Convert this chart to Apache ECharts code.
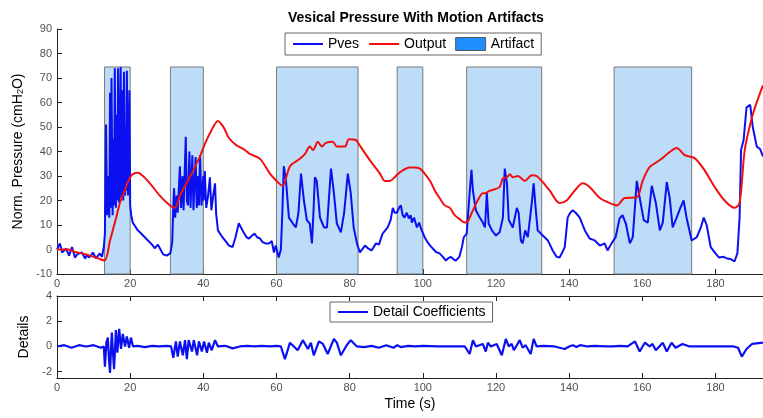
<!DOCTYPE html>
<html>
<head>
<meta charset="utf-8">
<script src="https://cdn.jsdelivr.net/npm/echarts@6/dist/echarts.min.js"></script>
<style>
html,body{margin:0;padding:0;background:#fff;}
#chart{width:763px;height:418px;}
</style>
</head>
<body>
<div id="chart"></div>
<script>
// ---------- DATA ----------
const chartTitle = 'Vesical Pressure With Motion Artifacts';
const xTicks = [0, 20, 40, 60, 80, 100, 120, 140, 160, 180];
const yTicksTop = [-10, 0, 10, 20, 30, 40, 50, 60, 70, 80, 90];
const yTicksBottom = [-2, 0, 2, 4];

const pvesTime = [0,0.8,1.4,1.9,2.5,3.3,4.1,4.9,5.5,6,6.8,7.7,8.2,8.7,9.3,9.8,10.7,11.2,11.7,12.3,12.8,13.1,13.4,
13.7,14.1,14.3,14.5,14.7,14.9,15.2,15.5,15.6,15.8,16.1,16.4,16.5,16.7,17.0,17.4,17.6,17.9,18.1,18.3,18.6,18.8,18.9,19.1,19.4,19.8,20.0,20.3,20.7,
21,22,23,24,25,26,26.7,27.6,28.3,29,30,31,31.5,31.8,32,32.3,32.7,33,33.6,33.9,34.3,34.6,35.2,35.5,35.8,36.2,36.5,37,37.3,37.9,38.2,38.6,38.8,39.1,39.5,40,40.1,40.4,40.8,41.3,41.8,42.2,42.7,43.2,43.5,44,45,45.5,46.3,47,48,48.8,49.7,50.3,51,51.8,52.5,53.2,54,54.7,55.5,56.2,57,58,58.7,59.3,59.8,60.6,61.2,61.6,62,62.6,63.4,64.5,65.3,66,66.7,67.5,68.3,69.1,69.7,70.1,70.5,71,71.9,73,73.8,74.3,74.9,75.7,76.5,77.6,78.5,79.5,80.3,81.1,82,82.8,84.2,85,86,87.2,88,89,90.4,91.2,91.8,92.3,92.9,93.5,94,94.5,95,95.6,96.2,96.7,97,97.6,98.4,99,99.5,100.5,101.3,102,103.6,104.6,105.5,106.3,107,107.7,108.4,109,110,110.7,111.2,112,112.8,113.3,113.7,114.5,115.6,116.4,117,117.5,118,118.9,120,121,121.9,122.4,123,123.5,124.6,125.7,126.2,126.8,127.3,128,128.7,129.8,130.3,130.9,131.4,132.8,134.2,135.5,136.6,137.4,138.2,138.8,139.6,140.3,141,141.8,142.9,144.3,145.6,147,148.4,149.7,150.5,151.6,152.7,153.8,154.6,155.5,156.6,157.4,158.5,159.3,160.4,161.5,162.6,163.7,164.8,165.6,166.7,167.5,168.3,169.4,170.4,171.3,172.1,173.5,174.9,176,176.8,177.6,178.7,180,181,182.2,183.3,184.3,185.2,186,186.6,187,187.7,188.5,189.5,190.2,191.3,192.2,193];
const pvesValue = [0,2.5,-1.2,-1.6,0.4,-2.5,1,-3.3,-2,-1.6,-1.2,-3.7,-2,-3.3,-2.5,-1.2,-3.7,-2.5,-1.6,-3,1,6.5,51,
14,30,13,64,17,70,14,45,18,74,17,55,20,74,19,74.5,21,65,20,72.5,22,50,24,73,22,65,18,14,11,
10.5,8,6.5,5,3.5,2,0.5,2,0,-2,-2.5,-1.5,3,18,25,13,22,15,34,17,30,16,46,20,18,40,17,38.5,16,37.7,17,30,18,38.5,18,30,20,32,17,22,29.5,16,22,27,14.6,7.8,5.5,5,3,1.6,1,5,10.7,9,7,5,4.5,5.5,6.5,5,4.5,3,2.5,2.5,3.5,-1.2,1.6,-3.3,0,15,34,28,13,10.6,9,15,31,20,12,10.6,2.5,15,29.5,28,13,9,9,20,33,23,10.6,7,15,31,23,9,2.5,-1.2,1.6,0.5,-0.4,2.5,2,6.5,9,12,17,15,15,17,18,14,13,15,12.7,14,11,13,9,11,8.6,5,3,1.6,-1,-1.6,-3,-4.5,-3.5,-3,-4,-4.5,-3,1,5,6.5,23,32.5,24,16,13,11,9,23,10.6,7.8,5.7,7,13,33,27,12,9,17,15,3.7,2.5,7.8,5,19,27,16,7.8,5.7,3.7,-0.4,-3,-3.3,-1,1,13,15,16,15,13,7.8,4.5,3.7,1.6,2.5,-0.4,2.5,5,12.7,14,10.6,2.5,5,28,21,12,11,26,19,7.8,11,27.5,21,9,13,17,20,13,3.7,5,9,13,10,1,-1.6,-3.3,-3,-3.7,-4,-4.9,-1.6,13,40.6,44.7,58,59,50,42,41,38];

const outputTime = [0,3,5,8,11,13,14.5,16,17.2,18.5,19.5,20.5,22,23.5,25.4,28.1,30.9,32.2,33.6,36.3,39,40.4,42,44,45.5,47,49,51,52.7,55.5,58.2,60.7,61.7,63.7,66.4,67.8,69.1,70,71.3,72.4,73.5,75.4,76.5,78.7,79.8,81.7,82.5,85.5,88.3,89.6,91,92.3,93.7,96.4,97.8,99.2,100.5,102,103.3,104.6,106,107.4,108.7,110,111.5,112.3,113.4,115,116.4,117,118.3,119.7,121,121.9,123,123.8,124.6,126,127.9,129.8,131.1,132.5,134.7,137.4,139.3,141.5,143.7,145.6,148.4,151,153,155.2,158.5,160.1,162,164.8,167.5,169.4,171.6,174.3,177,179.8,182.5,185.2,186.6,188,190,191.5,193];
const outputValue = [0,0,-1,-2,-3.5,-4.5,3.7,12,19,24,28,30.5,31.3,30,27,22,18,17,22,29.5,37.7,43,48,52.5,50,45.5,42.6,41,39,37,31,27,26,34,37,39,42,40.6,44,42,43.5,44,42,42,45,44.7,43,36.5,31,28,28,29.5,31.5,33.5,33.5,33,31,28,24,21,18,17,14,12.5,11,11.5,15,20,23,23,24,24.6,25.5,29,29.5,30.7,29.5,30,28,30.3,30,28,24,19,20,24,27,25.5,21,19,18,21,21.3,28,33.6,36.5,39.8,41.4,38.5,37.3,32.4,25.5,20,17,19,40.6,54,61,67];

const detailTime = [0,2,4,6,8,10,12,12.8,13.1,13.5,13.9,14.2,14.5,14.8,15,15.3,15.6,15.9,16.1,16.5,17,17.5,18,18.6,19.1,19.7,20.2,20.8,22,24,26,28,30,31.2,31.8,32.5,33,33.6,34.4,35,35.5,36,36.9,37.4,38.3,38.8,39.6,40.2,41,41.5,42.3,43.2,44,46,48,50,52,54,56,58,60,61.2,62.3,63.7,65.8,67.2,68.6,69.4,70.2,71.6,72.7,74,75.7,76.5,77.6,79.2,80.3,82,84,86,88,90,92,93,94,96,98,100,104,108,110,111.5,112.8,113.7,114.5,116.4,117.2,117.8,118.6,120.2,121.6,122.7,123.5,124.3,124.9,126.5,127.3,128.1,129.5,130.3,131.1,133,136,138.8,140,141,142,143,145,147,150,152,154,156,158,159.3,160.7,162,162.8,163.7,165.6,166.7,168,169.1,171,172.9,175,180,185,186.2,187.2,188.5,190,193];
const detailValue = [0,0.1,-0.1,0.1,0,0.1,-0.1,0,-1.6,0.3,0.7,-1,-2.1,0,1.1,-0.5,-1.8,0,1.3,-0.5,1.4,-0.2,1,0,0.8,-0.1,0.7,0,0.05,-0.05,0.05,0,0.05,0,-0.9,0.4,-0.8,0.4,-0.7,0.5,-1.0,0.5,-0.4,0.5,-0.7,0.4,-0.4,0.4,-0.5,0.3,-0.3,0.5,0,0.05,-0.15,0,0.05,0,0.05,0,0.05,0,-1.0,0.3,-0.3,0.5,-0.2,0.3,-0.7,0.4,0.2,-0.6,0.6,0.3,-0.7,0.1,0.5,0,-0.05,0.05,-0.1,0.1,-0.1,0.1,-0.05,0.05,0,0.05,0,0,0,0,-0.6,0.5,0,0.2,-0.4,0.3,0,0.2,-0.7,0.6,0,0.2,-0.3,0.5,-0.1,0.1,-0.6,0.6,0,0.05,0,-0.2,0,0.1,-0.05,0.1,0,0.05,0,0,0.05,0,0.4,-0.4,0.3,0,0.2,-0.3,0.3,-0.4,0.3,-0.1,0.2,0,0,0,0,-0.1,-0.8,-0.2,0.2,0.3];

const artifactStart = [13, 31, 60, 93, 112, 152.3];
const artifactEnd = [20, 40, 82.3, 100, 132.5, 173.5];
const artifactTop = [74.5, 74.5, 74.5, 74.5, 74.5, 74.5];

// ---------- BUILD ----------
const zip = (a, b) => a.map((v, i) => [v, b[i]]);
const artifactData = artifactStart.map((s, i) => [s, artifactEnd[i], artifactTop[i]]);
const FONT = '"Liberation Sans", Arial, sans-serif';
const X0 = 0, X1 = 193;
const tickColor = '#505050';
const BLUE = '#0a10f0', RED = '#f01010';

const chart = echarts.init(document.getElementById('chart'), null, {renderer: 'canvas'});
const axisLineStyle = {color: '#222', width: 1};
const xAxisCommon = (gridIndex) => ({
  type: 'value', gridIndex, min: X0, max: X1,
  axisLine: {show: true, onZero: false, lineStyle: axisLineStyle},
  axisTick: {show: true, inside: true, length: 5, lineStyle: axisLineStyle, customValues: xTicks},
  axisLabel: {show: true, margin: 4, color: tickColor, fontSize: 11, fontFamily: FONT, customValues: xTicks},
  splitLine: {show: false}
});
const hiddenSymbol = {opacity: 0};

const option = {
  animation: false,
  backgroundColor: '#fff',
  title: {
    text: chartTitle, left: 283, top: 6,
    textStyle: {fontSize: 14, fontWeight: 'bold', color: '#000', fontFamily: FONT}
  },
  legend: [
    {
      data: [
        {name: 'Pves', itemStyle: hiddenSymbol},
        {name: 'Output', itemStyle: hiddenSymbol},
        {name: 'Artifact', icon: 'rect', itemStyle: {color: '#1e8fff', borderColor: '#555', borderWidth: 1}}
      ],
      left: 285, top: 33, orient: 'horizontal',
      itemWidth: 30, itemHeight: 13, itemGap: 9,
      padding: [4, 7, 4, 7],
      borderColor: '#666', borderWidth: 1, backgroundColor: '#fff',
      textStyle: {fontSize: 14, color: '#000', fontFamily: FONT},
      selectedMode: false
    },
    {
      data: [{name: 'Detail Coefficients', itemStyle: hiddenSymbol}],
      left: 330, top: 302,
      itemWidth: 30, itemHeight: 13,
      padding: [3, 7, 3, 7],
      borderColor: '#666', borderWidth: 1, backgroundColor: '#fff',
      textStyle: {fontSize: 14, color: '#000', fontFamily: FONT},
      selectedMode: false
    }
  ],
  grid: [
    {left: 57, top: 29, width: 706, height: 245, containLabel: false},
    {left: 57, top: 296, width: 706, height: 82, containLabel: false}
  ],
  xAxis: [
    Object.assign(xAxisCommon(0), {position: 'bottom'}),
    Object.assign(xAxisCommon(1), {
      position: 'bottom', name: 'Time (s)', nameLocation: 'middle', nameGap: 19,
      nameTextStyle: {fontSize: 14, color: '#000', fontFamily: FONT}
    }),
    Object.assign(xAxisCommon(1), {
      position: 'top',
      axisLabel: {show: false}
    })
  ],
  yAxis: [
    {
      type: 'value', gridIndex: 0, min: -10, max: 90, interval: 10,
      axisLine: {show: true, onZero: false, lineStyle: axisLineStyle},
      axisTick: {show: true, inside: true, length: 5, lineStyle: axisLineStyle, customValues: yTicksTop},
      axisLabel: {margin: 5, color: tickColor, fontSize: 11, fontFamily: FONT, customValues: yTicksTop},
      splitLine: {show: false},
      name: 'Norm. Pressure (cmH{sub|2}O)', nameLocation: 'middle', nameGap: 30, nameRotate: 90,
      nameTextStyle: {
        fontSize: 14, color: '#000', fontFamily: FONT,
        rich: {sub: {fontSize: 9, color: '#000', fontFamily: FONT, verticalAlign: 'bottom', padding: [6, 0, 0, 0]}}
      }
    },
    {
      type: 'value', gridIndex: 1, min: -2.5, max: 4,
      axisLine: {show: true, onZero: false, lineStyle: axisLineStyle},
      axisTick: {show: true, inside: true, length: 5, lineStyle: axisLineStyle, customValues: yTicksBottom},
      axisLabel: {margin: 5, color: tickColor, fontSize: 11, fontFamily: FONT, customValues: yTicksBottom},
      splitLine: {show: false},
      name: 'Details', nameLocation: 'middle', nameGap: 19, nameRotate: 90,
      nameTextStyle: {fontSize: 14, color: '#000', fontFamily: FONT}
    }
  ],
  series: [
    {
      name: 'Artifact', type: 'custom', xAxisIndex: 0, yAxisIndex: 0, z: 1,
      itemStyle: {color: '#1e8fff'},
      encode: {x: [0, 1], y: 2},
      data: artifactData,
      renderItem: function (params, api) {
        const p0 = api.coord([api.value(0), -10]);
        const p1 = api.coord([api.value(1), api.value(2)]);
        return {
          type: 'rect',
          shape: {x: p0[0], y: p1[1], width: p1[0] - p0[0], height: p0[1] - p1[1]},
          style: {fill: '#bcdcf8', stroke: '#7a7a7a', lineWidth: 1}
        };
      }
    },
    {
      name: 'Pves', type: 'line', xAxisIndex: 0, yAxisIndex: 0, z: 3,
      data: zip(pvesTime, pvesValue), symbol: 'none', showSymbol: false,
      lineStyle: {color: BLUE, width: 2}, itemStyle: {color: BLUE}
    },
    {
      name: 'Output', type: 'line', xAxisIndex: 0, yAxisIndex: 0, z: 4,
      data: zip(outputTime, outputValue), symbol: 'none', showSymbol: false, smooth: 0.3,
      lineStyle: {color: RED, width: 2}, itemStyle: {color: RED}
    },
    {
      name: 'Detail Coefficients', type: 'line', xAxisIndex: 1, yAxisIndex: 1, z: 3,
      data: zip(detailTime, detailValue), symbol: 'none', showSymbol: false,
      lineStyle: {color: BLUE, width: 2.2}, itemStyle: {color: BLUE}
    }
  ]
};
chart.setOption(option);
</script>
</body>
</html>
